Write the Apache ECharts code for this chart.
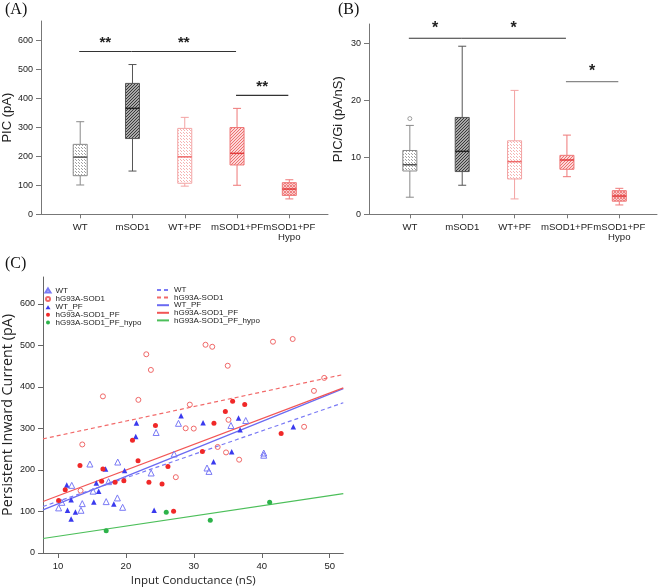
<!DOCTYPE html>
<html><head><meta charset="utf-8">
<script src="https://cdn.jsdelivr.net/npm/echarts@6/dist/echarts.min.js"></script>
<style>html,body{margin:0;padding:0;background:#fff}#c{width:658px;height:588px}</style>
</head><body><div id="c"></div>
<script>
// ---------- Panel A / B data ----------
const categories = ['WT', 'mSOD1', 'WT+PF', 'mSOD1+PF', 'mSOD1+PF\nHypo'];
// PIC (pA) box statistics
const picMin = [101, 149, 97, 100, 53];
const picQ1  = [133, 261, 107, 170, 65];
const picMed = [197, 365, 198, 210, 87];
const picQ3  = [241, 451, 296, 299, 109];
const picMax = [319, 516, 334, 365, 119];
// PIC/Gi (pA/nS) box statistics
const gMin = [3.0, 5.1, 2.7, 6.6, 1.64];
const gQ1  = [7.6, 7.5, 6.2, 7.9, 2.3];
const gMed = [8.7, 11.05, 9.24, 9.53, 3.2];
const gQ3  = [11.2, 17.0, 12.9, 10.35, 4.15];
const gMax = [15.6, 29.5, 21.75, 13.9, 4.56];
const gOutliers = [[0, 16.8]];
// significance brackets
const sigAFrom = [0, 1, 3], sigATo = [1, 3, 4], sigALevel = [561, 561, 410], sigAText = ['**', '**', '**'];
const sigBFrom = [0, 1, 3], sigBTo = [1, 3, 4], sigBLevel = [30.9, 30.9, 23.3], sigBText = ['*', '*', '*'];
const ticksA = [0, 100, 200, 300, 400, 500, 600];
const ticksB = [0, 10, 20, 30];
const catTicks = [0, 1, 2, 3, 4];

// ---------- Panel C data ----------
const ticksCx = [10, 20, 30, 40, 50];
const ticksCy = [0, 100, 200, 300, 400, 500, 600];
const wtX = [10.10,10.58,12.03,13.39,13.58,14.70,15.17,17.10,17.45,18.75,18.80,19.52,23.72,24.45,27.10,27.74,31.94,32.23,35.46,37.64,40.29,40.29];
const wtY = [108.7,122.1,163.0,102.9,119.0,214.4,149.0,123.8,171.9,132.7,219.2,110.1,192.8,290.4,238.5,312.5,204.8,196.6,307.2,319.2,240.9,235.6];
const sodX = [13.58,13.33,16.62,21.84,23.0,23.68,27.35,28.80,29.41,29.99,31.72,32.71,33.51,34.74,34.99,35.10,36.67,41.65,44.55,46.23,47.68,49.19];
const sodY = [261.5,150.2,377.4,369.0,478.8,441.1,182.7,300.5,357.5,299.8,501.7,496.9,255.5,242.3,451.2,320.9,224.8,509.1,515.6,304.1,390.6,421.9];
const wtpfX = [11.30,11.94,11.41,12.57,11.94,15.28,15.65,16.0,17.01,18.22,19.81,21.45,21.55,24.16,28.12,31.36,32.90,35.57,36.58,36.81,44.64];
const wtpfY = [163.9,128.6,102.9,99.0,81.7,122.6,168.8,148.6,202.4,118.3,199.0,280.8,313.0,102.9,330.5,313.7,220.0,244.0,325.0,296.9,304.1];
const sodpfX = [10.10,11.07,13.24,16.43,16.62,18.41,20.97,19.70,21.79,23.39,24.35,25.32,26.19,27.02,31.26,32.96,34.64,35.71,37.49,42.85];
const sodpfY = [126.2,152.6,211.1,172.6,202.4,170.2,271.4,174.3,222.4,170.2,307.2,166.3,208.6,100.5,244.7,312.7,340.9,365.9,357.7,288.0];
const hypoX = [17.10, 25.94, 32.42, 41.16];
const hypoY = [53.4, 98.1, 78.8, 122.1];
// fitted regression lines (read at both ends of the x range)
const fitX = [7.8, 52];
const fitWT = [112, 362];
const fitSOD = [275, 430];
const fitWTPF = [104, 396];
const fitSODPF = [124, 398];
const fitHypo = [35, 143];

// ---------- styles ----------
function makePattern(kind, fg, bg, s) {
  const c = document.createElement('canvas'); c.width = c.height = s;
  const g = c.getContext('2d'); g.fillStyle = bg; g.fillRect(0, 0, s, s); g.fillStyle = fg;
  if (kind === 'dots') { g.fillRect(0, 0, 1, 1); g.fillRect(Math.floor(s/2), Math.floor(s/2), 1, 1); }
  else if (kind === 'diag') { for (let k = 0; k < s; k++) g.fillRect(k, s - 1 - k, 1, 1); }
  else if (kind === 'cross') { for (let k = 0; k < s; k++) { g.fillRect(k, s - 1 - k, 1, 1); g.fillRect(k, k, 1, 1); } }
  return { image: c, repeat: 'repeat' };
}
const boxStyles = [
  { stroke: '#8a8a8a', median: '#555', fill: makePattern('dots', '#a0a0a0', '#ffffff', 3) },
  { stroke: '#555555', median: '#222', fill: makePattern('diag', '#3a3a3a', '#a8a8a8', 3) },
  { stroke: '#f3a3a3', median: '#ef6b6b', fill: makePattern('dots', '#f6b3b3', '#ffffff', 3) },
  { stroke: '#ee7777', median: '#e23d3d', fill: makePattern('diag', '#ee7070', '#fbd8d8', 3) },
  { stroke: '#ef7a7a', median: '#e23d3d', fill: makePattern('cross', '#ef8080', '#f9cccc', 3) }
];

function boxData(mn, q1, md, q3, mx) { return mn.map((v, i) => [i, v, q1[i], md[i], q3[i], mx[i]]); }
function renderBox(params, api) {
  const st = boxStyles[params.dataIndex];
  const i = api.value(0);
  const cx = api.coord([i, api.value(3)])[0];
  const yMin = api.coord([i, api.value(1)])[1];
  const yQ1 = api.coord([i, api.value(2)])[1];
  const yMed = api.coord([i, api.value(3)])[1];
  const yQ3 = api.coord([i, api.value(4)])[1];
  const yMax = api.coord([i, api.value(5)])[1];
  const hw = 7, cap = 4;
  const ls = { stroke: st.stroke, lineWidth: 1 };
  return { type: 'group', children: [
    { type: 'line', shape: { x1: cx, y1: yMax, x2: cx, y2: yQ3 }, style: ls },
    { type: 'line', shape: { x1: cx, y1: yQ1, x2: cx, y2: yMin }, style: ls },
    { type: 'line', shape: { x1: cx - cap, y1: yMax, x2: cx + cap, y2: yMax }, style: ls },
    { type: 'line', shape: { x1: cx - cap, y1: yMin, x2: cx + cap, y2: yMin }, style: ls },
    { type: 'rect', shape: { x: cx - hw, y: yQ3, width: 2 * hw, height: yQ1 - yQ3 }, style: { fill: st.fill, stroke: st.stroke, lineWidth: 1 } },
    { type: 'line', shape: { x1: cx - hw, y1: yMed, x2: cx + hw, y2: yMed }, style: { stroke: st.median, lineWidth: 1.5 } }
  ]};
}
function sigData(f, t, l) { return f.map((v, i) => [v, t[i], l[i]]); }
function makeSigRender(texts, colors, fontSize, lift) {
  return function (params, api) {
    const p1 = api.coord([api.value(0), api.value(2)]);
    const p2 = api.coord([api.value(1), api.value(2)]);
    const col = colors[params.dataIndex];
    return { type: 'group', children: [
      { type: 'line', shape: { x1: p1[0] - 1, y1: p1[1], x2: p2[0] - 1, y2: p2[1] }, style: { stroke: col, lineWidth: 1.2 } },
      { type: 'text', x: (p1[0] + p2[0]) / 2 - 1, y: p1[1] - lift, style: { text: texts[params.dataIndex], fill: '#222', font: 'bold ' + fontSize + 'px "Liberation Sans", Arial', align: 'center', verticalAlign: 'bottom' } }
    ]};
  };
}

const axisGray = '#777';
const labelFont = '"Liberation Sans", Arial, sans-serif';
function catAxis(gridIndex, min, max) {
  return {
    type: 'value', gridIndex, min, max,
    axisLine: { show: true, onZero: false, lineStyle: { color: axisGray } },
    axisTick: { show: true, length: 4, customValues: catTicks, lineStyle: { color: axisGray } },
    axisLabel: { customValues: catTicks, formatter: v => categories[Math.round(v)], color: '#222', fontSize: 9.6, fontFamily: labelFont, margin: 8, lineHeight: 10, hideOverlap: false, showMinLabel: true, showMaxLabel: true },
    splitLine: { show: false }
  };
}
function valAxis(gridIndex, min, max, ticks, name, color) {
  return {
    type: 'value', gridIndex, min, max, name, nameLocation: 'middle', nameGap: 24,
    nameTextStyle: { fontSize: 13, color: '#222', fontFamily: labelFont },
    axisLine: { show: true, onZero: false, lineStyle: { color: color } },
    axisTick: { show: true, length: 5, customValues: ticks, lineStyle: { color: color } },
    axisLabel: { customValues: ticks, color: '#222', fontSize: 9, fontFamily: labelFont, margin: 8 },
    splitLine: { show: false }
  };
}

const cBlueLight = '#7a7af5', cBlue = '#3a3aee', cRed = '#f02828', cRedLight = '#f06868', cGreen = '#2db34a';
function scat(name, xs, ys, symbol, size, fill, stroke) {
  return { name, type: 'scatter', xAxisIndex: 2, yAxisIndex: 2, symbol, symbolSize: size,
    data: xs.map((x, i) => [x, ys[i]]), z: 3,
    itemStyle: { color: fill, borderColor: stroke, borderWidth: fill === 'none' ? 1 : 0, opacity: 1 } };
}
function fit(name, ys, color, type) {
  return { name, type: 'line', xAxisIndex: 2, yAxisIndex: 2, symbol: 'none', silent: true, z: 2,
    data: fitX.map((x, i) => [x, ys[i]]), color,
    lineStyle: { color, width: 1.2, type } };
}

const chart = echarts.init(document.getElementById('c'), null, { renderer: 'canvas' });
chart.setOption({
  animation: false,
  backgroundColor: '#fff',
  title: [
    { text: '(A)', left: 0, top: -3, textStyle: { fontFamily: '"Liberation Serif", "Times New Roman", serif', fontWeight: 'normal', fontSize: 16, color: '#111' } },
    { text: '(B)', left: 333, top: -3, textStyle: { fontFamily: '"Liberation Serif", "Times New Roman", serif', fontWeight: 'normal', fontSize: 16, color: '#111' } },
    { text: '(C)', left: 0, top: 251, textStyle: { fontFamily: '"Liberation Serif", "Times New Roman", serif', fontWeight: 'normal', fontSize: 16, color: '#111' } }
  ],
  grid: [
    { left: 41, top: 21, width: 287, height: 193.3 },
    { left: 369, top: 24, width: 288, height: 190.3 },
    { left: 39.3, top: 277, width: 304, height: 276.5 }
  ],
  legend: [
    { left: 43, top: 286, padding: 0, orient: 'vertical', itemGap: -0.4, itemWidth: 5, itemHeight: 4,
      textStyle: { fontSize: 8, lineHeight: 8, color: '#222', fontFamily: labelFont },
      data: ['WT', 'hG93A-SOD1', 'WT_PF', 'hG93A-SOD1_PF', 'hG93A-SOD1_PF_hypo'] },
    { left: 156, top: 286, padding: 0, orient: 'vertical', itemGap: -0.4, itemWidth: 12, itemHeight: 5,
      itemStyle: { opacity: 0 },
      textStyle: { fontSize: 8, lineHeight: 8, color: '#222', fontFamily: labelFont },
      data: ['WT ', 'hG93A-SOD1 ', 'WT_PF ', 'hG93A-SOD1_PF ', 'hG93A-SOD1_PF_hypo '] }
  ],
  xAxis: [
    catAxis(0, -0.75, 4.74),
    catAxis(1, -0.78, 4.72),
    { type: 'value', gridIndex: 2, min: 7.8, max: 52, name: 'Input Conductance (nS)', nameLocation: 'middle', nameGap: 22,
      nameTextStyle: { fontSize: 11.5, color: '#222', fontFamily: '"Open Sans", Arial, sans-serif' },
      axisLine: { show: true, onZero: false, lineStyle: { color: '#666' } },
      axisTick: { show: true, length: 5, customValues: ticksCx, lineStyle: { color: '#666' } },
      axisLabel: { customValues: ticksCx, color: '#222', fontSize: 9.5, fontFamily: labelFont, margin: 8 },
      splitLine: { show: false } }
  ],
  yAxis: [
    valAxis(0, 0, 666, ticksA, 'PIC (pA)', axisGray),
    valAxis(1, 0, 33.4, ticksB, 'PIC/Gi (pA/nS)', axisGray),
    Object.assign(valAxis(2, 0, 665, ticksCy, 'Persistent Inward Current (pA)', '#666'), {
      nameGap: 28, nameTextStyle: { fontSize: 14.3, color: '#222', fontFamily: '"Open Sans", Arial, sans-serif' } })
  ],
  series: [
    { type: 'custom', xAxisIndex: 0, yAxisIndex: 0, renderItem: renderBox, data: boxData(picMin, picQ1, picMed, picQ3, picMax), encode: { x: 0, y: [1, 2, 3, 4, 5] }, silent: true },
    { type: 'custom', xAxisIndex: 1, yAxisIndex: 1, renderItem: renderBox, data: boxData(gMin, gQ1, gMed, gQ3, gMax), encode: { x: 0, y: [1, 2, 3, 4, 5] }, silent: true },
    { type: 'scatter', xAxisIndex: 1, yAxisIndex: 1, symbol: 'circle', symbolSize: 4, data: gOutliers, itemStyle: { color: '#fff', borderColor: '#888', borderWidth: 1 }, silent: true },
    { type: 'custom', xAxisIndex: 0, yAxisIndex: 0, renderItem: makeSigRender(sigAText, ['#333', '#333', '#333'], 15, 1), data: sigData(sigAFrom, sigATo, sigALevel), encode: { x: [0, 1], y: 2 }, silent: true },
    { type: 'custom', xAxisIndex: 1, yAxisIndex: 1, renderItem: makeSigRender(sigBText, ['#333', '#333', '#888'], 16, 2), data: sigData(sigBFrom, sigBTo, sigBLevel), encode: { x: [0, 1], y: 2 }, silent: true },
    scat('WT', wtX, wtY, 'triangle', 6, 'none', cBlueLight),
    scat('hG93A-SOD1', sodX, sodY, 'circle', 5, 'none', cRedLight),
    scat('WT_PF', wtpfX, wtpfY, 'triangle', 5.5, cBlue, cBlue),
    scat('hG93A-SOD1_PF', sodpfX, sodpfY, 'circle', 5, cRed, cRed),
    scat('hG93A-SOD1_PF_hypo', hypoX, hypoY, 'circle', 5, cGreen, cGreen),
    fit('WT ', fitWT, '#7a7af5', [4, 3]),
    fit('hG93A-SOD1 ', fitSOD, '#f26a6a', [4, 3]),
    fit('WT_PF ', fitWTPF, '#6a6af2', 'solid'),
    fit('hG93A-SOD1_PF ', fitSODPF, '#f25555', 'solid'),
    fit('hG93A-SOD1_PF_hypo ', fitHypo, '#4cbf5a', 'solid')
  ]
});
</script></body></html>
